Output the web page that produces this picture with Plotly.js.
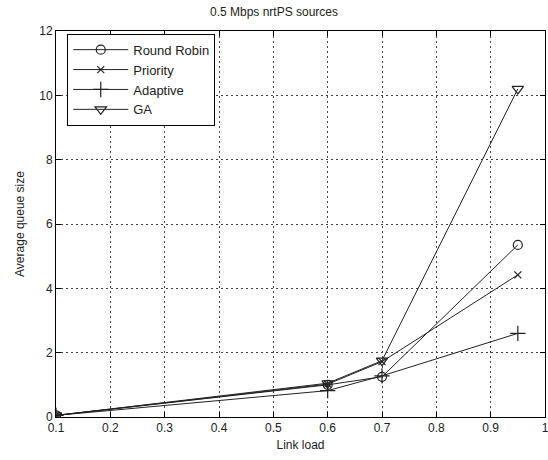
<!DOCTYPE html>
<html><head><meta charset="utf-8">
<script src="https://cdn.plot.ly/plotly-3.0.1.min.js"></script>
<style>html,body{margin:0;padding:0;background:#fff;}#chart{width:548px;height:460px;}</style>
</head><body><div id="chart"></div>
<script>
const linkLoad = [0.1, 0.6, 0.7, 0.95];
const roundRobin = [0.05, 1.0, 1.25, 5.35];
const priority = [0.05, 1.02, 1.72, 4.42];
const adaptive = [0.05, 0.82, 1.28, 2.6];
const ga = [0.05, 1.05, 1.75, 10.2];
const seriesNames = ["Round Robin", "Priority", "Adaptive", "GA"];
const xTicks = [0.1,0.2,0.3,0.4,0.5,0.6,0.7,0.8,0.9,1];
const xTickText = ["0.1","0.2","0.3","0.4","0.5","0.6","0.7","0.8","0.9","1"];
const yTicks = [0,2,4,6,8,10,12];

const symbols = ["circle-open","x-thin-open","cross-thin-open","triangle-down-open"];
const sizes = [9,7,11,10];
const ys = [roundRobin, priority, adaptive, ga];
const traces = ys.map((y,i)=>({
  x: linkLoad, y: y, name: seriesNames[i], type:'scatter', mode:'lines+markers',
  line:{color:'#222', width:1},
  marker:{symbol:symbols[i], size:sizes[i], color:'#222', line:{color:'#222', width:1.2}}
}));
const axisCommon = {
  showline:true, linecolor:'#000', linewidth:1, mirror:'ticks',
  ticks:'inside', ticklen:5, tickcolor:'#000',
  showgrid:true, gridcolor:'#444', griddash:'2px,3px', gridwidth:1,
  zeroline:false, tickfont:{size:12, color:'#222'}, ticklabeloverflow:'allow'
};
const layout = {
  width:548, height:460,
  margin:{l:56, r:3, t:31, b:43},
  paper_bgcolor:'#fff', plot_bgcolor:'#fff',
  font:{family:'Liberation Sans, Arial, sans-serif', color:'#222', size:12},
  title:{text:'0.5 Mbps nrtPS sources', x:0.5, xanchor:'center', y:0.983, yanchor:'top', font:{size:12}},
  xaxis:Object.assign({}, axisCommon, {range:[0.1,1], tickvals:xTicks, ticktext:xTickText,
    title:{text:'Link load', standoff:6, font:{size:12}}}),
  yaxis:Object.assign({}, axisCommon, {range:[0,12], tickvals:yTicks,
    title:{text:'Average queue size', standoff:12, font:{size:12}}}),
  legend:{x:0.023, y:0.993, xanchor:'left', yanchor:'top', bgcolor:'#fff',
    bordercolor:'#000', borderwidth:1, font:{size:13}, tracegroupgap:0, itemwidth:55},
  showlegend:true
};
Plotly.newPlot('chart', traces, layout, {displayModeBar:false, staticPlot:true});
</script></body></html>
